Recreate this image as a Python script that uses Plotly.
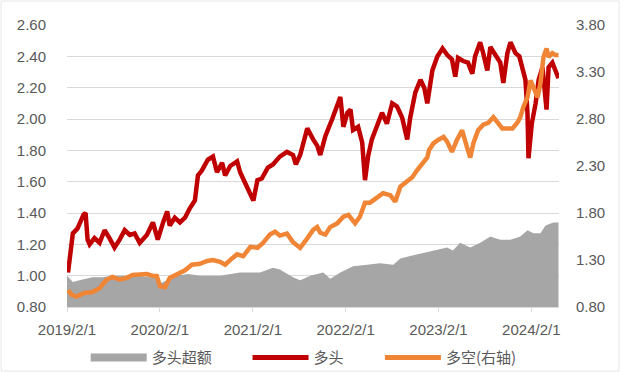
import plotly.graph_objects as go

# ---- data ----
long_dates = ["2019-02-05","2019-02-24","2019-03-14","2019-04-07","2019-04-15","2019-04-23","2019-05-01","2019-05-20",
 "2019-06-09","2019-06-29","2019-07-18","2019-08-07","2019-08-27","2019-09-16","2019-10-06","2019-10-25","2019-11-14",
 "2019-12-12","2020-01-05","2020-01-24","2020-02-14","2020-03-01","2020-03-11","2020-03-31","2020-04-20","2020-05-10",
 "2020-05-29","2020-06-18","2020-06-30","2020-07-15","2020-08-08","2020-08-28","2020-09-13","2020-10-03","2020-10-15",
 "2020-11-04","2020-12-01","2020-12-13","2021-01-02","2021-01-22","2021-02-03","2021-02-19","2021-03-08","2021-04-01",
 "2021-04-21","2021-05-18","2021-06-15","2021-07-09","2021-07-20","2021-08-06","2021-09-03","2021-09-26","2021-10-12",
 "2021-10-24","2021-11-13","2021-12-10","2021-12-30","2022-01-11","2022-01-23","2022-02-08","2022-02-20","2022-03-02",
 "2022-03-22","2022-04-07","2022-04-18","2022-04-30","2022-05-15","2022-06-04","2022-06-24","2022-07-13","2022-08-03",
 "2022-08-22","2022-09-11","2022-10-01","2022-10-13","2022-11-02","2022-11-22","2022-12-07","2022-12-19","2023-01-08",
 "2023-01-28","2023-02-17","2023-03-07","2023-03-26","2023-04-08","2023-04-19","2023-05-09","2023-05-28","2023-06-14",
 "2023-06-25","2023-07-15","2023-07-27","2023-08-12","2023-08-24","2023-09-13","2023-10-02","2023-10-14","2023-10-30",
 "2023-11-11","2023-12-01","2023-12-16","2023-12-28","2024-01-09","2024-01-17","2024-01-21","2024-02-03","2024-02-18",
 "2024-03-01","2024-03-16","2024-04-01","2024-04-09","2024-04-24","2024-05-06","2024-05-18"]
long_values = [1.02,1.27,1.30,1.39,1.40,1.23,1.20,1.24,
 1.21,1.29,1.24,1.18,1.23,1.29,1.26,1.27,1.21,
 1.26,1.34,1.23,1.34,1.41,1.32,1.37,1.34,1.37,
 1.43,1.48,1.64,1.67,1.74,1.76,1.66,1.72,1.64,
 1.70,1.73,1.66,1.59,1.53,1.48,1.61,1.62,1.69,
 1.71,1.76,1.79,1.77,1.71,1.77,1.94,1.87,1.83,
 1.77,1.89,2.00,2.08,2.14,1.95,2.04,2.06,1.93,
 1.95,1.85,1.61,1.76,1.87,1.95,2.04,1.97,2.10,
 2.08,2.01,1.87,2.01,2.17,2.25,2.20,2.10,2.31,
 2.40,2.45,2.41,2.38,2.27,2.39,2.37,2.36,2.29,
 2.40,2.49,2.42,2.31,2.46,2.41,2.36,2.23,2.42,
 2.49,2.42,2.40,2.31,2.25,2.04,1.75,1.97,2.10,
 2.25,2.33,2.06,2.33,2.36,2.31,2.26]

ls_dates = ["2019-02-05","2019-02-20","2019-03-10","2019-04-11","2019-05-12","2019-06-09","2019-07-06","2019-07-30",
 "2019-08-27","2019-09-24","2019-10-17","2019-11-14","2019-12-12","2020-01-05","2020-01-20","2020-02-02","2020-02-22",
 "2020-03-11","2020-04-08","2020-05-10","2020-06-06","2020-07-08","2020-08-05","2020-08-28","2020-09-25","2020-10-15",
 "2020-11-12","2020-12-01","2020-12-25","2021-01-22","2021-02-19","2021-03-12","2021-04-09","2021-04-29","2021-05-18",
 "2021-06-15","2021-07-09","2021-08-06","2021-09-03","2021-09-26","2021-10-12","2021-10-24","2021-11-13","2021-12-02",
 "2021-12-30","2022-01-23","2022-02-12","2022-03-10","2022-03-29","2022-04-18","2022-05-08","2022-06-04","2022-06-28",
 "2022-07-26","2022-08-15","2022-09-04","2022-10-01","2022-10-21","2022-11-10","2022-11-29","2022-12-19","2022-12-26",
 "2023-01-12","2023-02-01","2023-02-21","2023-03-07","2023-03-26","2023-04-15","2023-05-05","2023-05-24","2023-06-06",
 "2023-06-18","2023-07-07","2023-07-27","2023-08-16","2023-09-05","2023-09-20","2023-10-10","2023-10-30","2023-11-19",
 "2023-12-08","2023-12-20","2024-01-01","2024-01-17","2024-01-29","2024-02-10","2024-02-26","2024-03-08","2024-03-20",
 "2024-04-01","2024-04-09","2024-04-24","2024-05-06","2024-05-18"]
ls_values = [0.98,0.93,0.91,0.95,0.96,1.00,1.09,1.12,
 1.09,1.11,1.14,1.15,1.15,1.13,1.13,1.02,1.01,
 1.11,1.15,1.19,1.25,1.26,1.29,1.30,1.28,1.25,
 1.32,1.36,1.34,1.44,1.43,1.48,1.57,1.60,1.56,
 1.58,1.49,1.43,1.53,1.62,1.65,1.59,1.57,1.65,
 1.69,1.76,1.78,1.69,1.76,1.91,1.91,1.97,2.01,
 1.99,1.92,2.08,2.13,2.18,2.26,2.33,2.39,2.47,
 2.54,2.58,2.61,2.56,2.45,2.58,2.68,2.50,2.39,
 2.54,2.68,2.74,2.76,2.82,2.76,2.70,2.70,2.70,
 2.76,2.82,2.93,3.03,3.21,3.13,3.03,3.18,3.46,
 3.55,3.46,3.50,3.48,3.48]

ex_dates = ["2019-02-01","2019-02-24","2019-03-22","2019-04-19","2019-05-12","2019-06-21","2019-07-30","2019-09-24",
 "2019-11-14","2019-12-24","2020-01-20","2020-02-02","2020-03-01","2020-04-08","2020-05-21","2020-07-08","2020-09-25",
 "2020-12-13","2021-03-01","2021-04-21","2021-05-18","2021-07-09","2021-08-06","2021-09-15","2021-11-05","2021-12-02",
 "2022-01-11","2022-03-02","2022-04-26","2022-06-16","2022-08-07","2022-09-04","2022-10-25","2022-12-19","2023-01-12",
 "2023-03-07","2023-03-30","2023-04-27","2023-06-06","2023-07-15","2023-08-24","2023-10-02","2023-11-11","2023-12-20",
 "2024-01-17","2024-02-10","2024-03-08","2024-03-28","2024-04-28","2024-05-18"]
ex_values = [1.00,0.96,0.97,0.98,0.99,0.99,1.00,1.00,
 1.00,0.99,0.99,0.95,0.97,1.00,1.01,1.00,1.00,
 1.02,1.02,1.05,1.04,0.99,0.97,1.00,1.02,0.98,
 1.02,1.06,1.07,1.08,1.07,1.11,1.13,1.15,1.16,
 1.18,1.16,1.21,1.18,1.21,1.25,1.23,1.23,1.25,
 1.29,1.27,1.27,1.32,1.34,1.34]

tick_dates = ["2019-02-01","2020-02-01","2021-02-01","2022-02-01","2023-02-01","2024-02-01"]
tick_labels = ["2019/2/1","2020/2/1","2021/2/1","2022/2/1","2023/2/1","2024/2/1"]
left_ticks = [0.8,1.0,1.2,1.4,1.6,1.8,2.0,2.2,2.4,2.6]
right_ticks = [0.8,1.3,1.8,2.3,2.8,3.3,3.8]
names = ["多头超额","多头","多空(右轴)"]

GRAY = "#A6A6A6"; RED = "#C00000"; ORANGE = "#F08536"
TXT = "#595959"

fig = go.Figure()
fig.add_trace(go.Scatter(x=ex_dates, y=ex_values, mode="lines", line=dict(width=0, color=GRAY),
                         fill="tozeroy", fillcolor=GRAY, showlegend=False, hoverinfo="skip"))
fig.add_trace(go.Scatter(x=long_dates, y=long_values, mode="lines", line=dict(width=4.5, color=RED),
                         showlegend=False))
fig.add_trace(go.Scatter(x=ls_dates, y=ls_values, mode="lines", line=dict(width=4.5, color=ORANGE),
                         yaxis="y2", showlegend=False))

# legend entries (one legend each, for placement)
legend_cols = [GRAY, RED, ORANGE]
legend_w = [8, 5, 5]
legend_x = [0.038, 0.367, 0.636]
for i, (nm, c, w) in enumerate(zip(names, legend_cols, legend_w)):
    lg = "legend" if i == 0 else f"legend{i+1}"
    fig.add_trace(go.Scatter(x=[None], y=[None], mode="lines", name=nm, line=dict(color=c, width=w),
                             legend=lg, showlegend=True))

leg_common = dict(orientation="h", yanchor="middle", y=-0.180, xanchor="left",
                  font=dict(family="Noto Sans CJK SC", size=15, color=TXT),
                  bgcolor="rgba(0,0,0,0)", itemwidth=56)
fig.update_layout(
    legend=dict(x=legend_x[0], **leg_common),
    legend2=dict(x=legend_x[1], **leg_common),
    legend3=dict(x=legend_x[2], **leg_common),
)

fig.update_layout(
    width=624, height=372,
    margin=dict(l=67, r=65, t=25, b=65, autoexpand=False),
    paper_bgcolor="white", plot_bgcolor="white",
    font=dict(family="Liberation Sans", size=15, color=TXT),
    xaxis=dict(type="date", range=["2019-02-01", "2024-05-20"], tickvals=tick_dates, ticktext=tick_labels,
               showgrid=False, zeroline=False, showline=True, linecolor="#D9D9D9", linewidth=1,
               ticks="outside", ticklen=4, tickcolor="#D9D9D9", tickfont=dict(size=15, color=TXT),
               ticklabelstandoff=5, automargin=False),
    yaxis=dict(range=[0.8, 2.6], tickvals=left_ticks, tickformat=".2f", showgrid=True,
               gridcolor="#D9D9D9", gridwidth=1, zeroline=False, ticks="", ticklabelstandoff=20,
               tickfont=dict(size=15, color=TXT), automargin=False),
    yaxis2=dict(range=[0.8, 3.8], tickvals=right_ticks, tickformat=".2f", overlaying="y", side="right",
                showgrid=False, zeroline=False, ticks="", ticklabelstandoff=16,
                tickfont=dict(size=15, color=TXT), automargin=False),
    shapes=[dict(type="rect", xref="paper", yref="paper", x0=-0.134, x1=1.122, y0=-0.227, y1=1.085,
                 line=dict(color="#E6E6E6", width=1), layer="below")],
    hovermode=False,
)

fig.write_html("out.html", config={"displayModeBar": False, "staticPlot": True},
               post_script="document.body.style.margin='0';")
